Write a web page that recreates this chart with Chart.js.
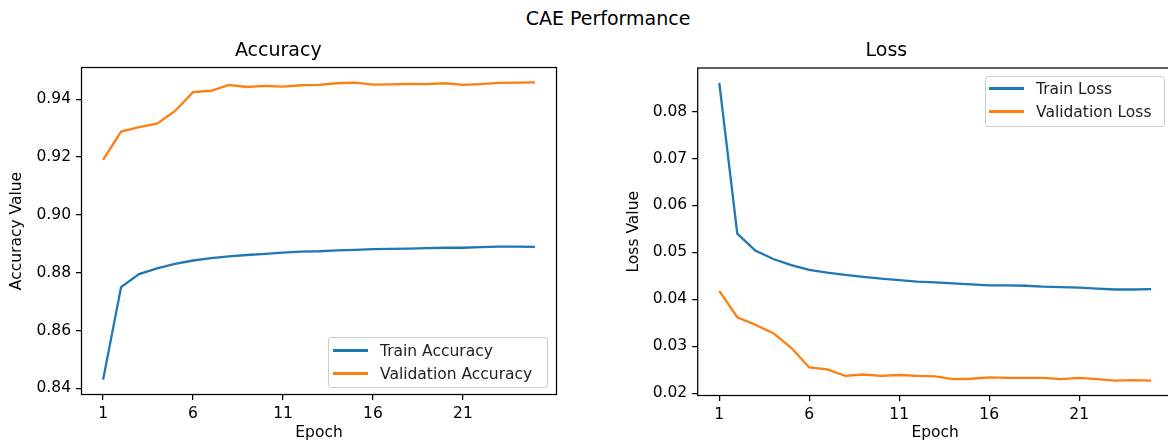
<!DOCTYPE html>
<html>
<head>
<meta charset="utf-8">
<script src="https://cdn.jsdelivr.net/npm/chart.js@4.4.1/dist/chart.umd.min.js"></script>
<style>
  html, body { margin: 0; padding: 0; background: #fff; }
  body { width: 1168px; height: 446px; overflow: hidden; position: relative;
         font-family: "DejaVu Sans", sans-serif; color: #000; }
  .suptitle { position: absolute; top: 6px; left: 408px; width: 400px; text-align: center;
              font-size: 19px; line-height: 24px; }
  canvas { position: absolute; top: 0; }
  #acc-chart { left: 0; }
  #loss-chart { left: 600px; }
  .legend { position: absolute; box-sizing: border-box; border: 1px solid #cccccc;
            border-radius: 3px; background: rgba(255,255,255,0.8); font-size: 15.5px; }
  .legend-row { display: flex; align-items: center; height: 23px; white-space: nowrap; color: #222; }
  .legend-swatch { display: inline-block; width: 35px; height: 2.3px; margin-right: 12px; }
</style>
</head>
<body>
<div class="suptitle">CAE Performance</div>
<canvas id="acc-chart" width="600" height="446"></canvas>
<canvas id="loss-chart" width="600" height="446"></canvas>
<div class="legend" id="acc-legend" style="left:328px; top:337px; width:220px; height:51px; padding:1px 0 0 4px;"></div>
<div class="legend" id="loss-legend" style="left:985px; top:76px; width:180px; height:51px; padding:0 0 0 3px;"></div>

<script>
// Training history of the CAE.

const EPOCHS = [1, 2, 3, 4, 5, 6, 7, 8, 9, 10, 11, 12, 13, 14, 15, 16, 17, 18, 19, 20, 21, 22, 23, 24, 25];
const X_TICKS = [1, 6, 11, 16, 21];

const TRAIN_ACC = [0.843, 0.875, 0.8795, 0.8815, 0.883, 0.8842, 0.885, 0.8856, 0.8861, 0.8865,
                   0.8869, 0.8873, 0.8874, 0.8877, 0.8879, 0.8881, 0.8882, 0.8883, 0.8885, 0.8886,
                   0.8886, 0.8888, 0.889, 0.889, 0.8889];
const VAL_ACC   = [0.919, 0.9288, 0.9303, 0.9315, 0.9359, 0.9424, 0.9429, 0.9449, 0.9442, 0.9446,
                   0.9443, 0.9448, 0.9449, 0.9455, 0.9457, 0.945, 0.9451, 0.9453, 0.9452, 0.9455,
                   0.9449, 0.9452, 0.9456, 0.9457, 0.9458];
const ACC_TICKS = [0.84, 0.86, 0.88, 0.90, 0.92, 0.94];

const TRAIN_LOSS = [0.0861, 0.054, 0.0504, 0.0486, 0.0473, 0.0463, 0.0457, 0.0452, 0.0448, 0.0444,
                    0.0441, 0.0438, 0.0436, 0.0434, 0.0432, 0.043, 0.043, 0.0429, 0.0427, 0.0426,
                    0.0425, 0.0423, 0.0421, 0.0421, 0.0422];
const VAL_LOSS   = [0.0418, 0.0362, 0.0346, 0.0328, 0.0297, 0.0255, 0.0251, 0.0237, 0.024, 0.0237,
                    0.0239, 0.0237, 0.0236, 0.023, 0.0231, 0.0234, 0.0233, 0.0233, 0.0233, 0.023,
                    0.0233, 0.023, 0.0227, 0.0228, 0.0227];
const LOSS_TICKS = [0.02, 0.03, 0.04, 0.05, 0.06, 0.07, 0.08];

const BLUE = "#1f77b4";
const ORANGE = "#ff7f0e";
const FONT = "'DejaVu Sans', sans-serif";

Chart.defaults.font.family = FONT;
Chart.defaults.color = "#000";

// --------------- Helpers ---------------

// matplotlib-style 5% margin around the data range
function paddedRange(values) {
  const lo = Math.min(...values), hi = Math.max(...values);
  const m = (hi - lo) * 0.05;
  return { min: lo - m, max: hi + m };
}

function toPoints(ys) {
  return EPOCHS.map((e, i) => ({ x: e, y: ys[i] }));
}

// Box around the plot area, drawn over the lines like mpl spines.
const framePlugin = {
  id: "frame",
  afterDatasetsDraw(chart) {
    const { ctx, chartArea: a } = chart;
    ctx.save();
    ctx.strokeStyle = "#000";
    ctx.lineWidth = 1.25;
    ctx.strokeRect(a.left, a.top, a.right - a.left, a.bottom - a.top);
    ctx.restore();
  },
};

function buildLegend(el, chart) {
  el.innerHTML = "";
  chart.data.datasets.forEach(ds => {
    const row = document.createElement("div");
    row.className = "legend-row";
    row.innerHTML = `<span class="legend-swatch" style="background:${ds.borderColor}"></span><span>${ds.label}</span>`;
    el.appendChild(row);
  });
}

// --------------- Charts ---------------

function makeChart(id, o) {
  const xAxisH = 446 - o.bottom;
  const yRange = paddedRange(o.series.flatMap(s => s.values));
  const tickGrid = { display: true, drawOnChartArea: false, drawTicks: true,
                     tickLength: 5.5, color: "#000", lineWidth: 1.25 };

  return new Chart(document.getElementById(id), {
    type: "line",
    data: {
      datasets: o.series.map(s => ({
        label: s.label, data: toPoints(s.values),
        borderColor: s.color, backgroundColor: s.color,
        borderWidth: 2.3, pointRadius: 0, tension: 0, fill: false,
      })),
    },
    options: {
      responsive: false,
      animation: false,
      events: [],
      layout: { padding: { left: 0, top: 0, bottom: 0, right: o.padRight } },
      plugins: {
        legend: { display: false },
        tooltip: { enabled: false },
        title: {
          display: true, text: o.title, color: "#000",
          font: { size: 19, weight: "normal", lineHeight: 1.2 },
          padding: { top: 39.6, bottom: o.top - 62.4 },
        },
      },
      scales: {
        x: {
          type: "linear",
          min: EPOCHS[0] - 1.2, max: EPOCHS[EPOCHS.length - 1] + 1.2,
          afterBuildTicks: s => { s.ticks = X_TICKS.map(v => ({ value: v })); },
          afterFit: s => { s.height = xAxisH; },
          ticks: { padding: 5, font: { size: 15.5 }, color: "#000", maxRotation: 0,
                   callback: v => String(v) },
          grid: tickGrid,
          border: { display: false },
          title: { display: true, text: "Epoch", color: "#000",
                   font: { size: 15.5, lineHeight: 1.2 }, padding: { top: 0, bottom: 3.7 } },
        },
        y: {
          min: yRange.min, max: yRange.max,
          afterBuildTicks: s => { s.ticks = o.yTicks.map(v => ({ value: v })); },
          afterFit: s => { s.width = o.yWidth; },
          ticks: { padding: 5, font: { size: 15.5 }, color: "#000",
                   callback: v => Number(v).toFixed(2) },
          grid: tickGrid,
          border: { display: false },
          title: { display: true, text: o.yTitle, color: "#000",
                   font: { size: 15.5, lineHeight: 1.2 }, padding: { top: o.yTitlePad, bottom: 0 } },
        },
      },
    },
    plugins: [framePlugin],
  });
}

const accChart = makeChart("acc-chart", {
  title: "Accuracy", yTitle: "Accuracy Value", yTicks: ACC_TICKS,
  yWidth: 81.5, padRight: 43.5, yTitlePad: 7.7, top: 67.5, bottom: 394.5,
  series: [
    { label: "Train Accuracy", values: TRAIN_ACC, color: BLUE },
    { label: "Validation Accuracy", values: VAL_ACC, color: ORANGE },
  ],
});

const lossChart = makeChart("loss-chart", {
  title: "Loss", yTitle: "Loss Value", yTicks: LOSS_TICKS,
  yWidth: 97.7, padRight: 27.3, yTitlePad: 24.2, top: 68, bottom: 395.5,
  series: [
    { label: "Train Loss", values: TRAIN_LOSS, color: BLUE },
    { label: "Validation Loss", values: VAL_LOSS, color: ORANGE },
  ],
});

buildLegend(document.getElementById("acc-legend"), accChart);
buildLegend(document.getElementById("loss-legend"), lossChart);
</script>
</body>
</html>
